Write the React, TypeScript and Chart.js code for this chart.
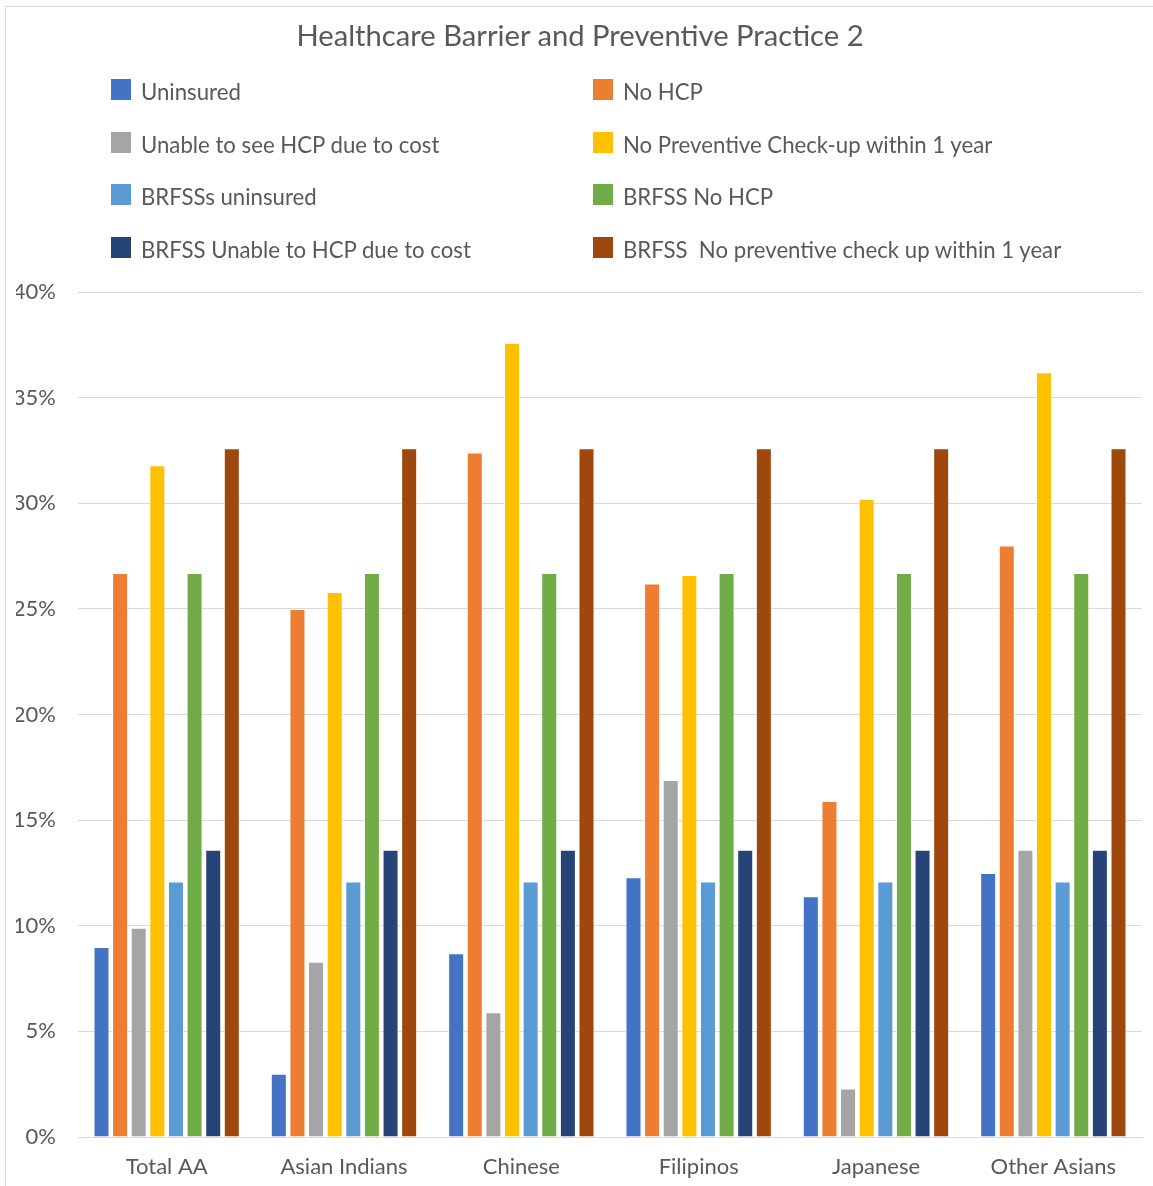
import React, { useEffect, useRef } from "react";
import { Chart, registerables } from "chart.js";

Chart.register(...registerables);

const TITLE = "Healthcare Barrier and Preventive Practice 2";

const categories = ["Total AA", "Asian Indians", "Chinese", "Filipinos", "Japanese", "Other Asians"];

const uninsured = [9.0, 3.0, 8.7, 12.3, 11.4, 12.5];
const noHcp = [26.7, 25.0, 32.4, 26.2, 15.9, 28.0];
const unableCost = [9.9, 8.3, 5.9, 16.9, 2.3, 13.6];
const noCheckup = [31.8, 25.8, 37.6, 26.6, 30.2, 36.2];
const brfssUninsured = [12.1, 12.1, 12.1, 12.1, 12.1, 12.1];
const brfssNoHcp = [26.7, 26.7, 26.7, 26.7, 26.7, 26.7];
const brfssUnableCost = [13.6, 13.6, 13.6, 13.6, 13.6, 13.6];
const brfssNoCheckup = [32.6, 32.6, 32.6, 32.6, 32.6, 32.6];

const seriesLabels = [
  "Uninsured",
  "No HCP",
  "Unable to see HCP due to cost",
  "No Preventive Check-up within 1 year",
  "BRFSSs uninsured",
  "BRFSS No HCP",
  "BRFSS Unable to HCP due to cost",
  "BRFSS  No preventive check up within 1 year",
];
const seriesValues = [
  uninsured,
  noHcp,
  unableCost,
  noCheckup,
  brfssUninsured,
  brfssNoHcp,
  brfssUnableCost,
  brfssNoCheckup,
];
const seriesColors = ["#4472C4", "#ED7D31", "#A5A5A5", "#FFC000", "#5B9BD5", "#70AD47", "#264478", "#9E480E"];

const yTicks = [0, 5, 10, 15, 20, 25, 30, 35, 40];

const FONT = "Lato, 'Liberation Sans', sans-serif";
const TEXT = "#595959";

export default function App() {
  const canvasRef = useRef<HTMLCanvasElement | null>(null);

  useEffect(() => {
    const canvas = canvasRef.current;
    if (!canvas) return;
    const chart = new Chart(canvas, {
      type: "bar",
      data: {
        labels: categories,
        datasets: seriesLabels.map((label, i) => ({
          label,
          data: seriesValues[i],
          backgroundColor: seriesColors[i],
          borderColor: "rgba(255,255,255,0.5)",
          borderWidth: 1,
          categoryPercentage: 0.84,
          barPercentage: 0.86,
        })),
      },
      options: {
        animation: false,
        responsive: false,
        maintainAspectRatio: false,
        layout: { padding: { top: 292, left: 16, right: 11, bottom: 0 } },
        plugins: {
          legend: { display: false },
          title: { display: false },
          tooltip: { enabled: false },
        },
        scales: {
          x: {
            grid: { display: false, drawTicks: false },
            border: { display: true, color: "#d9d9d9", width: 1 },
            ticks: { color: TEXT, font: { family: FONT, size: 22 }, padding: 17, maxRotation: 0 },
            afterFit: (scale: any) => {
              scale.height = 49;
            },
          },
          y: {
            min: 0,
            max: 40,
            afterBuildTicks: (scale: any) => {
              scale.ticks = yTicks.map((v) => ({ value: v }));
            },
            grid: { color: "#d9d9d9", lineWidth: 1, drawTicks: false },
            border: { display: false },
            ticks: {
              color: TEXT,
              font: { family: FONT, size: 22 },
              padding: 22,
              callback: (v: any) => `${v}%`,
            },
            afterFit: (scale: any) => {
              scale.width = 62;
            },
          },
        },
      },
    });
    return () => chart.destroy();
  }, []);

  return (
    <div
      style={{
        position: "absolute",
        left: 0,
        top: 0,
        width: 1153,
        height: 1186,
        background: "#ffffff",
        overflow: "hidden",
        fontFamily: FONT,
      }}
    >
      <div
        style={{
          position: "absolute",
          left: 5,
          top: 6,
          width: 1160,
          height: 1200,
          borderLeft: "1px solid #d9d9d9",
          borderTop: "1px solid #d9d9d9",
        }}
      />
      <canvas ref={canvasRef} width={1153} height={1186} style={{ position: "absolute", left: 0, top: 0 }} />
      <div
        style={{
          position: "absolute",
          left: 0,
          width: 1160,
          top: 20,
          textAlign: "center",
          fontSize: 29.2,
          lineHeight: "29px",
          color: TEXT,
          whiteSpace: "nowrap",
        }}
      >
        {TITLE}
      </div>
      {seriesLabels.map((label, i) => {
        const col = i % 2;
        const row = Math.floor(i / 2);
        return (
          <div
            key={label}
            style={{
              position: "absolute",
              left: col === 0 ? 111 : 593,
              top: 79 + row * 52.7,
              display: "flex",
              alignItems: "flex-start",
              whiteSpace: "pre",
            }}
          >
            <span style={{ width: 20, height: 21, background: seriesColors[i], display: "inline-block" }} />
            <span
              style={{
                marginLeft: 10,
                marginTop: 2,
                fontSize: 22.2,
                lineHeight: "22px",
                color: TEXT,
              }}
            >
              {label}
            </span>
          </div>
        );
      })}
    </div>
  );
}
